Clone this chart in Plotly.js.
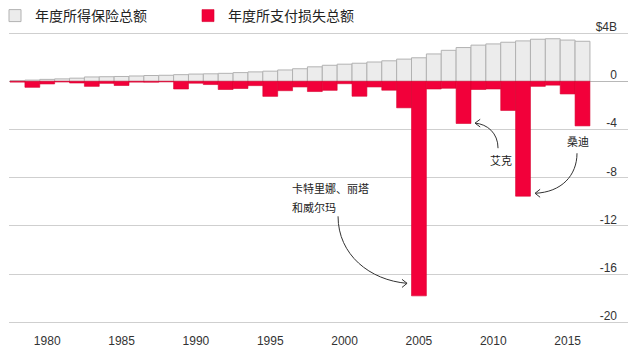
<!DOCTYPE html>
<html>
<head>
<meta charset="utf-8">
<script src="https://cdn.plot.ly/plotly-3.0.1.min.js"></script>
<style>
  html, body { margin: 0; padding: 0; background: #fff; }
  #chart { width: 640px; height: 351px; }
</style>
</head>
<body>
<div id="chart"></div>
<script>
// ---- Data (billions USD) ----
const years = [1978,1979,1980,1981,1982,1983,1984,1985,1986,1987,1988,1989,1990,1991,1992,1993,1994,1995,1996,1997,1998,1999,2000,2001,2002,2003,2004,2005,2006,2007,2008,2009,2010,2011,2012,2013,2014,2015,2016];
const premiums = [0.05,0.10,0.16,0.20,0.26,0.36,0.38,0.40,0.44,0.48,0.50,0.55,0.60,0.62,0.66,0.72,0.78,0.84,0.94,1.04,1.20,1.33,1.42,1.50,1.60,1.70,1.84,1.95,2.27,2.57,2.80,3.00,3.10,3.24,3.35,3.49,3.53,3.42,3.32];
const losses = [-0.07,-0.50,-0.22,-0.06,-0.14,-0.42,-0.17,-0.35,-0.07,-0.08,-0.05,-0.64,-0.16,-0.27,-0.68,-0.60,-0.36,-1.25,-0.78,-0.47,-0.85,-0.75,-0.20,-1.24,-0.47,-0.74,-2.20,-17.80,-0.64,-0.58,-3.50,-0.68,-0.64,-2.42,-9.53,-0.42,-0.32,-1.05,-3.70];
const seriesNames = ['年度所得保险总额', '年度所支付损失总额'];
const yTickVals = [4, 0, -4, -8, -12, -16, -20];
const yTickText = ['$4B', '0', '-4', '-8', '-12', '-16', '-20'];
const xTickVals = [1980, 1985, 1990, 1995, 2000, 2005, 2010, 2015];

// storm callouts
const callouts = [
  { text: '卡特里娜、丽塔', x: 1996.3, y: -8.85, anchor: 'left' },
  { text: '和威尔玛', x: 1996.3, y: -10.45, anchor: 'left' },
  { text: '艾克', x: 2010.5, y: -6.55, anchor: 'center' },
  { text: '桑迪', x: 2015.7, y: -4.95, anchor: 'center' }
];
const arrows = [
  { p0: [1999.56, -11.2], c1: [1999.56, -14.4], c2: [2001.7, -16.5], tip: [2004.2, -16.76], arms: [[2003.86, -16.43], [2003.86, -17.1]] },
  { p0: [2010.32, -5.55], c1: [2010.32, -4.3], c2: [2009.6, -3.55], tip: [2008.77, -3.47], arms: [[2009.12, -3.15], [2009.12, -3.79]] },
  { p0: [2015.63, -5.97], c1: [2015.63, -7.8], c2: [2014.6, -9.2], tip: [2012.81, -9.29], arms: [[2013.15, -8.96], [2013.15, -9.62]] }
];

const FONT = 'Liberation Sans, Arial, "Noto Sans CJK SC", sans-serif';

const traces = [
  {
    type: 'bar', name: seriesNames[0], x: years, y: premiums, width: 1,
    marker: { color: '#ececec', line: { color: '#b2b2b2', width: 1 } },
    hoverinfo: 'x+y'
  },
  {
    type: 'bar', name: seriesNames[1], x: years, y: losses, width: 1,
    marker: { color: '#f2003a', line: { color: '#d8002f', width: 0.6 } },
    hoverinfo: 'x+y'
  }
];

const shapes = [];
arrows.forEach(a => {
  shapes.push({
    type: 'path', xref: 'x', yref: 'y',
    path: `M ${a.p0[0]},${a.p0[1]} C ${a.c1[0]},${a.c1[1]} ${a.c2[0]},${a.c2[1]} ${a.tip[0]},${a.tip[1]}`,
    line: { color: '#333', width: 1 }
  });
  shapes.push({
    type: 'path', xref: 'x', yref: 'y',
    path: `M ${a.arms[0][0]},${a.arms[0][1]} L ${a.tip[0]},${a.tip[1]} L ${a.arms[1][0]},${a.arms[1][1]}`,
    line: { color: '#333', width: 1 }
  });
});

const annotations = callouts.map(c => ({
  x: c.x, y: c.y, xref: 'x', yref: 'y', text: c.text, showarrow: false,
  xanchor: c.anchor, yanchor: 'middle', align: c.anchor,
  font: { family: '"Noto Sans CJK SC", sans-serif', size: 11, color: '#222' }
}));

const layout = {
  width: 640, height: 351,
  margin: { l: 9, r: 12, t: 15, b: 25, autoexpand: false },
  paper_bgcolor: '#fff', plot_bgcolor: 'rgba(0,0,0,0)',
  barmode: 'overlay', bargap: 0,
  font: { family: FONT, size: 12, color: '#333' },
  showlegend: true,
  legend: {
    orientation: 'h', xref: 'container', yref: 'container',
    x: 0, xanchor: 'left', y: 1, yanchor: 'top', indentation: -5,
    font: { family: '"Noto Sans CJK SC", sans-serif', size: 14, color: '#222' },
    entrywidth: 153, bgcolor: 'rgba(0,0,0,0)'
  },
  xaxis: {
    range: [1977.43, 2019.06], tickvals: xTickVals, ticks: '',
    showgrid: false, zeroline: false, showline: false,
    tickfont: { family: FONT, size: 12, color: '#333' }, ticklabelstandoff: 6
  },
  yaxis: {
    range: [-20.3, 5.5], side: 'right', tickvals: yTickVals, ticktext: yTickText,
    ticklabelposition: 'inside top', ticks: '', ticklabelstandoff: 8, ticklabelshift: 2,
    showgrid: true, gridcolor: '#cfcfcf', gridwidth: 1,
    zeroline: true, zerolinecolor: '#b8b8b8', zerolinewidth: 1, showline: false,
    tickfont: { family: FONT, size: 12, color: '#333' }
  },
  shapes: shapes,
  annotations: annotations
};

Plotly.newPlot('chart', traces, layout, { displayModeBar: false, staticPlot: true });
</script>
</body>
</html>
